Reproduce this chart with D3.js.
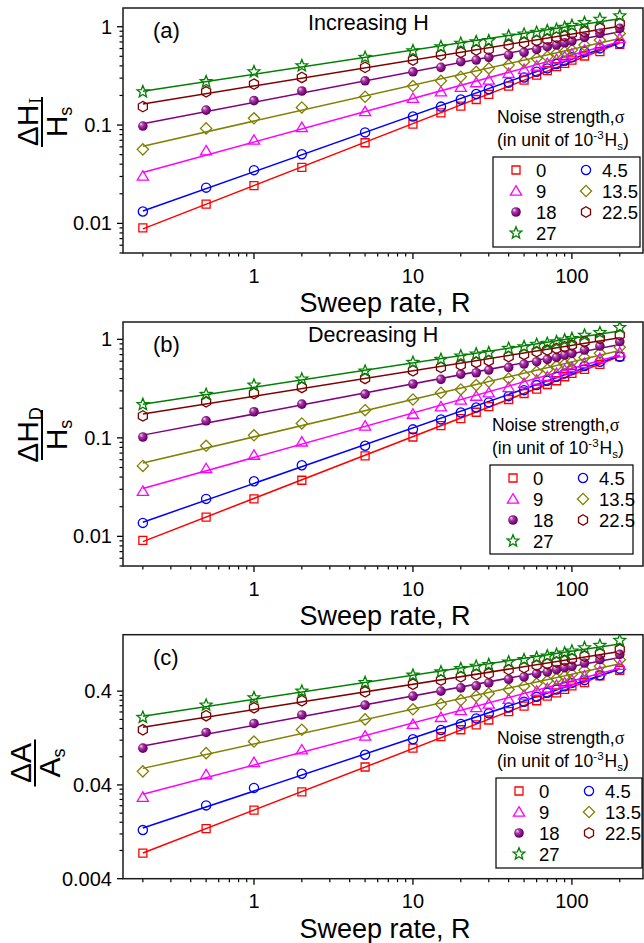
<!DOCTYPE html>
<html><head><meta charset="utf-8">
<script src="https://cdn.jsdelivr.net/npm/d3@7"></script>
<style>
body{margin:0;background:#fff}
svg{display:block}
text{font-family:"Liberation Sans",Arial,Helvetica,sans-serif;fill:#000}
</style>
</head><body>
<svg id="chart" width="644" height="943"></svg>
<script>
// ---------------- DATA ----------------
const sweepRate = [0.2, 0.5, 1, 2, 5, 10, 15, 20, 25, 30, 40, 50, 60, 70, 80, 90, 100, 120, 150, 200];
const sigmaLabels = ["0", "4.5", "9", "13.5", "18", "22.5", "27"];
const xTickValues = [1, 10, 100];
const xTickLabels = ["1", "10", "100"];
const yTickValuesAB = [0.01, 0.1, 1];
const yTickLabelsAB = ["0.01", "0.1", "1"];
const yTickValuesC = [0.004, 0.04, 0.4];
const yTickLabelsC = ["0.004", "0.04", "0.4"];

// Panel (a): Increasing H, ΔH_I/H_s
const a0    = [0.0090, 0.0157, 0.0242, 0.0371, 0.0661, 0.102, 0.133, 0.156, 0.182, 0.205, 0.249, 0.287, 0.322, 0.357, 0.392, 0.424, 0.458, 0.504, 0.557, 0.661];
const a4_5  = [0.0132, 0.0231, 0.0348, 0.0504, 0.0842, 0.122, 0.154, 0.182, 0.207, 0.231, 0.270, 0.305, 0.348, 0.377, 0.417, 0.451, 0.488, 0.557, 0.602, 0.677];
const a9    = [0.0303, 0.0548, 0.0703, 0.0946, 0.137, 0.187, 0.218, 0.242, 0.270, 0.287, 0.335, 0.368, 0.398, 0.424, 0.466, 0.495, 0.527, 0.579, 0.651, 0.760];
const a13_5 = [0.0566, 0.0925, 0.117, 0.151, 0.194, 0.249, 0.282, 0.310, 0.348, 0.377, 0.407, 0.441, 0.477, 0.495, 0.536, 0.557, 0.579, 0.651, 0.732, 0.855];
const a18   = [0.0977, 0.142, 0.177, 0.222, 0.282, 0.348, 0.386, 0.441, 0.458, 0.488, 0.515, 0.548, 0.588, 0.626, 0.651, 0.687, 0.715, 0.779, 0.855, 0.962];
const a22_5 = [0.154, 0.218, 0.261, 0.305, 0.386, 0.458, 0.515, 0.548, 0.579, 0.588, 0.651, 0.687, 0.721, 0.743, 0.779, 0.804, 0.855, 0.889, 0.962, 1.08];
const a27   = [0.218, 0.276, 0.348, 0.401, 0.488, 0.570, 0.626, 0.678, 0.703, 0.721, 0.804, 0.841, 0.875, 0.910, 0.940, 0.984, 1.03, 1.10, 1.19, 1.29];

// Panel (b): Decreasing H, ΔH_D/H_s
const b0    = [0.0091, 0.0157, 0.0240, 0.0371, 0.0656, 0.102, 0.133, 0.157, 0.182, 0.207, 0.245, 0.282, 0.313, 0.348, 0.380, 0.417, 0.451, 0.495, 0.557, 0.667];
const b4_5  = [0.0137, 0.0240, 0.0362, 0.0527, 0.0830, 0.122, 0.154, 0.181, 0.203, 0.229, 0.265, 0.305, 0.343, 0.380, 0.417, 0.451, 0.495, 0.536, 0.593, 0.667];
const b9    = [0.0287, 0.0488, 0.0667, 0.0910, 0.132, 0.174, 0.207, 0.242, 0.265, 0.287, 0.325, 0.357, 0.386, 0.417, 0.451, 0.488, 0.519, 0.570, 0.641, 0.732];
const b13_5 = [0.0519, 0.0830, 0.106, 0.140, 0.191, 0.245, 0.287, 0.310, 0.343, 0.371, 0.401, 0.434, 0.469, 0.495, 0.536, 0.561, 0.593, 0.656, 0.721, 0.830];
const b18   = [0.102, 0.149, 0.184, 0.220, 0.278, 0.352, 0.392, 0.444, 0.458, 0.488, 0.519, 0.561, 0.593, 0.626, 0.656, 0.693, 0.721, 0.779, 0.855, 0.946];
const b22_5 = [0.167, 0.232, 0.282, 0.325, 0.401, 0.480, 0.519, 0.548, 0.583, 0.607, 0.667, 0.703, 0.750, 0.779, 0.809, 0.841, 0.875, 0.946, 1.02, 1.11];
const b27   = [0.218, 0.276, 0.343, 0.395, 0.476, 0.583, 0.626, 0.678, 0.710, 0.732, 0.809, 0.841, 0.889, 0.910, 0.946, 0.984, 1.02, 1.10, 1.17, 1.32];

// Panel (c): ΔA/A_s
const c0    = [0.00748, 0.0137, 0.0215, 0.0337, 0.0621, 0.0987, 0.131, 0.155, 0.175, 0.197, 0.242, 0.277, 0.316, 0.354, 0.384, 0.417, 0.456, 0.494, 0.582, 0.668];
const c4_5  = [0.0132, 0.0242, 0.0372, 0.0527, 0.0840, 0.123, 0.154, 0.179, 0.205, 0.232, 0.268, 0.308, 0.348, 0.384, 0.417, 0.452, 0.490, 0.524, 0.592, 0.695];
const c9    = [0.0296, 0.0515, 0.0695, 0.0948, 0.133, 0.177, 0.210, 0.248, 0.268, 0.291, 0.327, 0.363, 0.400, 0.427, 0.463, 0.490, 0.524, 0.582, 0.652, 0.755];
const c13_5 = [0.0558, 0.0873, 0.116, 0.155, 0.200, 0.256, 0.291, 0.321, 0.354, 0.378, 0.417, 0.452, 0.482, 0.515, 0.544, 0.577, 0.606, 0.668, 0.736, 0.867];
const c18   = [0.0987, 0.145, 0.181, 0.223, 0.284, 0.354, 0.400, 0.434, 0.456, 0.490, 0.536, 0.568, 0.615, 0.641, 0.679, 0.713, 0.736, 0.798, 0.867, 0.986];
const c22_5 = [0.155, 0.219, 0.266, 0.316, 0.394, 0.474, 0.524, 0.568, 0.601, 0.615, 0.679, 0.713, 0.755, 0.785, 0.818, 0.853, 0.887, 0.940, 1.00, 1.11];
const c27   = [0.210, 0.284, 0.340, 0.400, 0.494, 0.592, 0.641, 0.695, 0.736, 0.768, 0.818, 0.867, 0.910, 0.948, 0.986, 1.02, 1.07, 1.16, 1.23, 1.39];

// ---------------- STYLE / LAYOUT ----------------
const colors = ["#ff0000", "#0000ff", "#ff00ff", "#808000", "#800080", "#800000", "#008000"];
const shapes = ["square", "circle", "triangle", "diamond", "sphere", "hexagon", "star"];

const panels = [
  { tag: "(a)", title: "Increasing H", series: [a0, a4_5, a9, a13_5, a18, a22_5, a27],
    top: 8, bottom: 253, yDomain: [0.005, 1.55], yTicks: yTickValuesAB, yLabels: yTickLabelsAB, minorBase: 1,
    ylab: { x: 42, y: 122, num: "ΔH", nsub: "I", nsubSerif: true, den: "H", dsub: "s", len: 50 },
    legend: { x: 493, y: 157, w: 147, h: 90, tx: 497 }, titleY: 30 },
  { tag: "(b)", title: "Decreasing H", series: [b0, b4_5, b9, b13_5, b18, b22_5, b27],
    top: 322, bottom: 566, yDomain: [0.005, 1.5], yTicks: yTickValuesAB, yLabels: yTickLabelsAB, minorBase: 1,
    ylab: { x: 42, y: 435, num: "ΔH", nsub: "D", nsubSerif: false, den: "H", dsub: "s", len: 50 },
    legend: { x: 490, y: 465, w: 143, h: 89, tx: 492 }, titleY: 342 },
  { tag: "(c)", title: "", series: [c0, c4_5, c9, c13_5, c18, c22_5, c27],
    top: 634.7, bottom: 878.7, yDomain: [0.004, 1.6], yTicks: yTickValuesC, yLabels: yTickLabelsC, minorBase: 4,
    ylab: { x: 35, y: 763, num: "ΔA", nsub: "", nsubSerif: false, den: "A", dsub: "s", len: 47 },
    legend: { x: 496, y: 778, w: 146, h: 90, tx: 497 }, titleY: 0 }
];

const plotLeft = 123, plotRight = 643;
const svg = d3.select("#chart");

// sphere gradient
const defs = svg.append("defs");
const grad = defs.append("radialGradient").attr("id", "sphereGrad")
  .attr("cx", "45%").attr("cy", "45%").attr("r", "60%").attr("fx", "30%").attr("fy", "28%");
grad.append("stop").attr("offset", "0%").attr("stop-color", "#f4e0f4");
grad.append("stop").attr("offset", "35%").attr("stop-color", "#a040a0");
grad.append("stop").attr("offset", "75%").attr("stop-color", "#800080");
grad.append("stop").attr("offset", "100%").attr("stop-color", "#4a004a");

function shapePath(shape) {
  const p = d3.path();
  if (shape === "square") { p.rect(-4, -4, 8, 8); }
  else if (shape === "circle") { p.arc(0, 0, 4.6, 0, 2 * Math.PI); p.closePath(); }
  else if (shape === "sphere") { p.arc(0, 0, 4.8, 0, 2 * Math.PI); p.closePath(); }
  else if (shape === "triangle") { p.moveTo(0, -5.3); p.lineTo(5.6, 4.1); p.lineTo(-5.6, 4.1); p.closePath(); }
  else if (shape === "diamond") { p.moveTo(0, -5.6); p.lineTo(5.6, 0); p.lineTo(0, 5.6); p.lineTo(-5.6, 0); p.closePath(); }
  else if (shape === "hexagon") {
    for (let k = 0; k < 6; k++) {
      const a = -Math.PI / 2 + k * Math.PI / 3;
      const x = 5.2 * Math.cos(a), y = 5.2 * Math.sin(a);
      if (k === 0) p.moveTo(x, y); else p.lineTo(x, y);
    }
    p.closePath();
  } else if (shape === "star") {
    for (let k = 0; k < 10; k++) {
      const a = -Math.PI / 2 + k * Math.PI / 5;
      const r = k % 2 === 0 ? 6.2 : 2.7;
      const x = r * Math.cos(a), y = r * Math.sin(a);
      if (k === 0) p.moveTo(x, y); else p.lineTo(x, y);
    }
    p.closePath();
  }
  return p.toString();
}

function drawMarker(g, shape, color, x, y) {
  const el = g.append("path").attr("d", shapePath(shape)).attr("transform", `translate(${x},${y})`);
  if (shape === "sphere") el.attr("fill", "url(#sphereGrad)").attr("stroke", "none");
  else el.attr("fill", "none").attr("stroke", color).attr("stroke-width", 1.3);
}

function linFit(xs, ys) {
  const lx = xs.map(Math.log10), ly = ys.map(Math.log10);
  const n = lx.length, mx = d3.mean(lx), my = d3.mean(ly);
  let sxy = 0, sxx = 0;
  for (let i = 0; i < n; i++) { sxy += (lx[i] - mx) * (ly[i] - my); sxx += (lx[i] - mx) ** 2; }
  const b = sxy / sxx, a = my - b * mx;
  return x => Math.pow(10, a + b * Math.log10(x));
}

const x = d3.scaleLog().domain([0.15, 280]).range([plotLeft, plotRight]);

panels.forEach(P => {
  const y = d3.scaleLog().domain(P.yDomain).range([P.bottom, P.top]);
  const g = svg.append("g");

  const clipId = "clip" + P.tag.replace(/[()]/g, "");
  defs.append("clipPath").attr("id", clipId).append("rect")
    .attr("x", plotLeft).attr("y", P.top).attr("width", plotRight - plotLeft).attr("height", P.bottom - P.top);

  // x ticks
  const xMinor = [];
  for (let e = -1; e <= 2; e++) for (let k = 2; k <= 9; k++) {
    const v = k * Math.pow(10, e);
    if (v >= 0.15 && v <= 280) xMinor.push(v);
  }
  const xa = g.append("g").attr("transform", `translate(0,${P.bottom})`);
  xa.selectAll("line.minor").data(xMinor).join("line")
    .attr("x1", d => x(d)).attr("x2", d => x(d)).attr("y1", 0).attr("y2", 3.5)
    .attr("stroke", "#000").attr("stroke-width", 1.2);
  xa.selectAll("line.major").data(xTickValues).join("line")
    .attr("x1", d => x(d)).attr("x2", d => x(d)).attr("y1", 0).attr("y2", 6)
    .attr("stroke", "#000").attr("stroke-width", 1.3);
  xa.selectAll("text").data(xTickValues).join("text")
    .attr("x", d => x(d)).attr("y", 29.5).attr("text-anchor", "middle")
    .style("font-size", "20px").text((d, i) => xTickLabels[i]);

  g.append("text").attr("x", 385).attr("y", P.bottom + 59).attr("text-anchor", "middle")
    .style("font-size", "27px").text("Sweep rate, R");

  // y ticks
  const yMinor = [];
  for (let e = -4; e <= 1; e++) for (let k = 2; k <= 9; k++) {
    const v = P.minorBase * k * Math.pow(10, e) / (P.minorBase === 1 ? 1 : 1000);
    if (v >= P.yDomain[0] * 0.999 && v <= P.yDomain[1]) yMinor.push(v);
  }
  const ya = g.append("g").attr("transform", `translate(${plotLeft},0)`);
  ya.selectAll("line.minor").data(yMinor).join("line")
    .attr("x1", 0).attr("x2", -3.5).attr("y1", d => y(d)).attr("y2", d => y(d))
    .attr("stroke", "#000").attr("stroke-width", 1.2);
  ya.selectAll("line.major").data(P.yTicks).join("line")
    .attr("x1", 0).attr("x2", -6).attr("y1", d => y(d)).attr("y2", d => y(d))
    .attr("stroke", "#000").attr("stroke-width", 1.3);
  ya.selectAll("text").data(P.yTicks).join("text")
    .attr("x", -11).attr("y", d => y(d) + 7).attr("text-anchor", "end")
    .style("font-size", "20px").text((d, i) => P.yLabels[i]);

  g.append("rect").attr("x", plotLeft).attr("y", P.top).attr("width", plotRight - plotLeft)
    .attr("height", P.bottom - P.top).attr("fill", "none").attr("stroke", "#1a1a1a").attr("stroke-width", 1.5);

  const dg = g.append("g").attr("clip-path", `url(#${clipId})`);
  P.series.forEach((vals, si) => {
    const f = linFit(sweepRate, vals);
    const x0 = sweepRate[0], x1 = sweepRate[sweepRate.length - 1];
    dg.append("line").attr("x1", x(x0)).attr("y1", y(f(x0))).attr("x2", x(x1)).attr("y2", y(f(x1)))
      .attr("stroke", colors[si]).attr("stroke-width", 1.5);
  });
  P.series.forEach((vals, si) => {
    vals.forEach((v, i) => drawMarker(dg, shapes[si], colors[si], x(sweepRate[i]), y(v)));
  });

  g.append("text").attr("x", 153).attr("y", P.top + 30).style("font-size", "22px").text(P.tag);
  if (P.title) g.append("text").attr("x", 308).attr("y", P.titleY).style("font-size", "21.5px").text(P.title);

  const L = P.ylab;
  const yl = g.append("g").attr("transform", `translate(${L.x},${L.y}) rotate(-90)`);
  const num = yl.append("text").attr("x", 0).attr("y", -4).attr("text-anchor", "middle").style("font-size", "30px");
  num.append("tspan").text(L.num);
  if (L.nsub) num.append("tspan").attr("dy", 4).attr("dx", 1).style("font-size", "18px")
    .style("font-family", L.nsubSerif ? "'Liberation Serif','Times New Roman',serif" : null).text(L.nsub);
  yl.append("line").attr("x1", -L.len / 2).attr("x2", L.len / 2).attr("y1", 0).attr("y2", 0)
    .attr("stroke", "#000").attr("stroke-width", 2);
  const den = yl.append("text").attr("x", 0).attr("y", 25).attr("text-anchor", "middle").style("font-size", "30px");
  den.append("tspan").text(L.den);
  den.append("tspan").attr("dy", 5).style("font-size", "18px").text(L.dsub);

  // legend
  const Lg = P.legend;
  const t1 = g.append("text").attr("x", Lg.tx).attr("y", Lg.y - 34).style("font-size", "17.5px");
  t1.append("tspan").text("Noise strength,");
  t1.append("tspan").style("font-family", "'Liberation Serif','Times New Roman',serif").style("font-size", "18px").text("σ");
  const t2 = g.append("text").attr("x", Lg.tx).attr("y", Lg.y - 11).style("font-size", "17.5px");
  t2.append("tspan").text("(in unit of 10");
  t2.append("tspan").attr("dy", -7).style("font-size", "11.5px").text("-3");
  t2.append("tspan").attr("dy", 7).attr("dx", 1).text("H");
  t2.append("tspan").attr("dy", 4).style("font-size", "11.5px").text("s");
  t2.append("tspan").attr("dy", -4).text(")");
  g.append("rect").attr("x", Lg.x).attr("y", Lg.y).attr("width", Lg.w).attr("height", Lg.h)
    .attr("fill", "#fff").attr("stroke", "#000").attr("stroke-width", 1.2);
  sigmaLabels.forEach((lab, i) => {
    const col = i % 2, row = Math.floor(i / 2);
    const cy = Lg.y + 13 + 21 * row;
    drawMarker(g, shapes[i], colors[i], Lg.x + (col ? 93 : 23), cy);
    g.append("text").attr("x", Lg.x + (col ? 109 : 43)).attr("y", cy + 6.5)
      .style("font-size", "18.5px").text(lab);
  });
});
</script>
</body></html>
